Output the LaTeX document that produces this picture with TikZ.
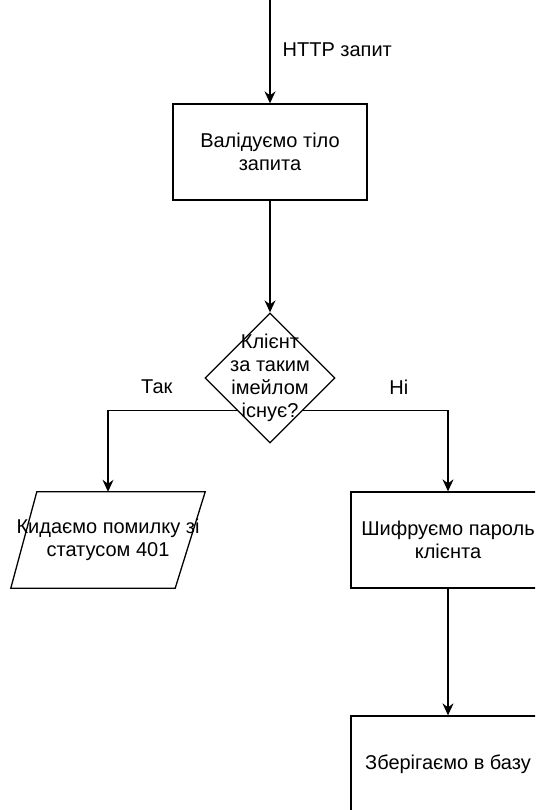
\documentclass[tikz,border=0pt]{standalone}
\usepackage{fontspec}
\setmainfont{Liberation Sans}
\usetikzlibrary{shapes.geometric,arrows.meta,calc}
\begin{document}
\begin{tikzpicture}[x=1pt,y=-1pt,
  every node/.style={font=\fontsize{20}{23}\selectfont, align=center},
  box/.style={draw, line width=1.3pt, rectangle, minimum width=194pt, minimum height=96pt, inner sep=0pt},
  ghost/.style={rectangle, minimum width=194pt, minimum height=96pt, inner sep=0pt},
  dia/.style={draw, line width=1.3pt, diamond, minimum width=130pt, minimum height=130pt, inner sep=0pt},
  arr/.style={line width=1.3pt, -{Stealth[length=12pt,width=11pt,inset=4pt]}},
  lbl/.style={inner sep=0pt}
]
\clip (0,0) rectangle (535,810);
\fill[white] (0,0) rectangle (535,810);

\coordinate (s) at (270,0);
\node[box] (b1) at (270,152) {Валідуємо тіло\\запита};
\node[dia] (d) at (270,378) {};
\node[lbl] (dt) at (270,378) {Клієнт\\за таким\\імейлом\\існує?};
\node[ghost] (p) at (108,540) {Кидаємо помилку зі\\статусом 401};
\draw[line width=1.3pt] ($(p.north west)+(26,0)$) -- (p.north east) -- ($(p.south east)+(-30,0)$) -- (p.south west) -- cycle;
\node[box] (r1) at (448,540) {Шифруємо пароль\\клієнта};
\node[box] (r2) at (448,764) {Зберігаємо в базу};

\draw[arr] (s) -- (b1.north) node[lbl, pos=0.48, anchor=west, xshift=12pt] {HTTP запит};
\draw[arr] (b1.south) -- (d.north);
\draw[arr] ($(d.west)!0.49!(d.south)$) -| (p.north) node[lbl, pos=0.31, yshift=23pt] {Так};
\draw[arr] ($(d.east)!0.49!(d.south)$) -| (r1.north) node[lbl, pos=0.33, yshift=23pt] {Ні};
\draw[arr] (r1.south) -- (r2.north);
\end{tikzpicture}
\end{document}
